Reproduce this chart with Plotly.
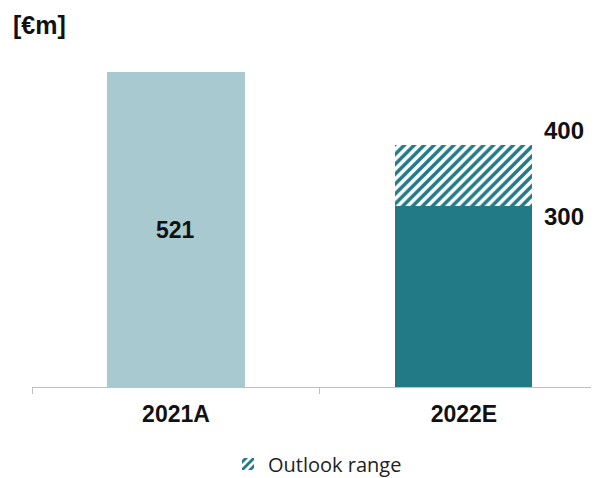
import plotly.graph_objects as go

categories = ["2021A", "2022E"]
base_values = [521, 300]
range_values = [0, 100]
range_label = "Outlook range"
unit_label = "[€m]"

light = "#A8C9D0"
dark = "#237A87"

# figure is drawn inside the page's 8px body margin
W, H = 591, 470
L, R, T, B = 24, 0, 64, 91
plot_h = H - T - B
plot_w = W - L - R

fig = go.Figure()
fig.add_trace(go.Bar(
    x=categories, y=base_values,
    marker=dict(color=[light, dark], line=dict(width=0)),
    width=0.476, showlegend=False, hoverinfo="skip",
))
fig.add_trace(go.Bar(
    x=categories, y=range_values, name=range_label,
    marker=dict(color="white", line=dict(width=0),
                pattern=dict(shape="/", fgcolor=dark, bgcolor="white",
                             size=7, solidity=0.5, fillmode="replace")),
    width=0.476, showlegend=True,
))

num_font = dict(size=24, color="#111", family="Liberation Sans, Arial, sans-serif")
fig.add_annotation(x=categories[0], y=base_values[0] / 2, text="<b>%d</b>" % base_values[0],
                   showarrow=False, font=dict(size=23, color="#111"))
top = base_values[1] + range_values[1]
fig.add_annotation(x=categories[1], y=top, text="<b>%d</b>" % top, xshift=100, yshift=15,
                   showarrow=False, font=num_font)
fig.add_annotation(x=categories[1], y=base_values[1], text="<b>%d</b>" % base_values[1],
                   xshift=100, yshift=-11, showarrow=False, font=num_font)
fig.add_annotation(xref="paper", yref="paper", x=(3 - L) / plot_w, y=(H - B - 17) / plot_h,
                   xanchor="left", yanchor="middle",
                   text="<b>%s</b>" % unit_label, showarrow=False,
                   font=dict(size=25, color="#111"))

fig.update_layout(
    width=W, height=H,
    margin=dict(l=L, r=R, t=T, b=B, autoexpand=False),
    barmode="stack",
    plot_bgcolor="white", paper_bgcolor="white",
    font=dict(family="Liberation Sans, Arial, sans-serif", color="#111"),
    xaxis=dict(range=[-0.5, 1.469], tickson="boundaries", ticks="outside", ticklen=6,
               tickcolor="#BFBFBF", showline=True, linecolor="#BFBFBF", linewidth=1,
               tickfont=dict(size=23, family="Liberation Sans, Arial, sans-serif"),
               ticklabelstandoff=6,
               tickprefix="<b>", ticksuffix="</b>", showgrid=False),
    yaxis=dict(range=[0, 521], visible=False, showgrid=False),
    legend=dict(orientation="h", x=(220 - L) / plot_w, xanchor="left",
                y=-(456 - (H - B)) / plot_h, yanchor="middle",
                font=dict(size=20, family="Open Sans, sans-serif", color="#222"),
                itemwidth=30),
    showlegend=True,
)

fig.write_html("out.html")
